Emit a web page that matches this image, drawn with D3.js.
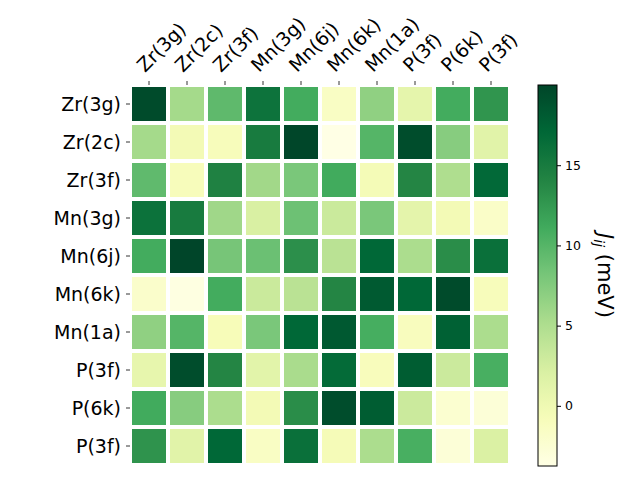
<!DOCTYPE html>
<head>
  <meta charset='utf-8'>
  <script src='https://d3js.org/d3.v7.min.js'></script>
  <style>
    body { margin: 0; background: #fff; }
    text { font-family: 'DejaVu Sans', sans-serif; fill: #000; }
  </style>
</head>

<body>
  <script>

const rowLabels = ['Zr(3g)', 'Zr(2c)', 'Zr(3f)', 'Mn(3g)', 'Mn(6j)', 'Mn(6k)', 'Mn(1a)', 'P(3f)', 'P(6k)', 'P(3f)'];
const colLabels = ['Zr(3g)', 'Zr(2c)', 'Zr(3f)', 'Mn(3g)', 'Mn(6j)', 'Mn(6k)', 'Mn(1a)', 'P(3f)', 'P(6k)', 'P(3f)'];

// J_ij in meV, one row per site
const values = [
  [19.5,  5.6,  9.5, 15.9, 11.0, -1.5,  6.8,  1.0, 11.0, 12.8],
  [ 5.6, -0.4, -0.9, 15.0, 19.9, -3.75, 10.0, 19.3,  7.3,  1.4],
  [ 9.4, -0.9, 14.4,  5.8,  8.0, 11.1, -0.5, 14.0,  5.0, 16.9],
  [16.0, 15.0,  5.9,  2.2,  8.7,  3.2,  8.0,  1.1, -0.4, -1.8],
  [11.0, 20.0,  8.2,  8.8, 13.2,  4.3, 17.0,  5.2, 13.4, 16.2],
  [-2.0, -3.5, 11.0,  3.2,  4.3, 14.0, 18.2, 17.0, 19.5, -0.9],
  [ 6.8, 10.0, -0.8,  8.0, 17.0, 18.3, 10.8, -1.1, 17.6,  5.2],
  [ 0.8, 19.3, 14.0,  1.3,  5.3, 16.7, -1.0, 18.0,  3.1, 10.7],
  [11.1,  7.3,  5.2, -0.4, 13.4, 19.3, 18.0,  3.1, -2.3, -2.8],
  [12.9,  1.4, 17.0, -1.5, 16.2, -0.6,  5.2, 10.7, -2.8,  2.0]
];

const cbarTicks = [0, 5, 10, 15];

// matplotlib YlGn
const ylgn = ['#ffffe5', '#f7fcb9', '#d9f0a3', '#addd8e', '#78c679', '#41ab5d', '#238443', '#006837', '#004529'];

const width = 640, height = 480;
const plot = {left: 130, top: 85, size: 380};
const cbar = {x: 538, y: 85, w: 19, h: 381};

const svg = d3.select('body').append('svg').attr('width', width).attr('height', height);

const [vmin, vmax] = d3.extent(values.flat());
const color = d3.scaleLinear()
  .domain(ylgn.map((c, i) => vmin + i * (vmax - vmin) / 8))
  .range(ylgn)
  .interpolate(d3.interpolateRgb);

const x = d3.scaleBand().domain(d3.range(colLabels.length)).range([plot.left, plot.left + plot.size]);
const y = d3.scaleBand().domain(d3.range(rowLabels.length)).range([plot.top, plot.top + plot.size]);

const cells = [];
values.forEach((row, i) => row.forEach((v, j) => cells.push({i, j, v})));

svg.append('g')
  .selectAll('rect')
  .data(cells)
  .join('rect')
  .attr('x', d => x(d.j) + 2)
  .attr('y', d => y(d.i) + 2)
  .attr('width', x.bandwidth() - 4)
  .attr('height', y.bandwidth() - 4)
  .attr('fill', d => color(d.v));

// top axis
const gTop = svg.append('g');
gTop.selectAll('line')
  .data(colLabels)
  .join('line')
  .attr('x1', (d, i) => x(i) + x.bandwidth() / 2)
  .attr('x2', (d, i) => x(i) + x.bandwidth() / 2)
  .attr('y1', plot.top - 4)
  .attr('y2', plot.top)
  .attr('stroke', '#000')
  .attr('stroke-width', 0.8);

gTop.selectAll('text')
  .data(colLabels)
  .join('text')
  .attr('font-size', 19)
  .attr('transform', (d, i) => `translate(${x(i) + x.bandwidth() / 2 - 4},73) rotate(-45)`)
  .text(d => d);

// left axis
const gLeft = svg.append('g');
gLeft.selectAll('line')
  .data(rowLabels)
  .join('line')
  .attr('x1', plot.left - 4)
  .attr('x2', plot.left)
  .attr('y1', (d, i) => y(i) + y.bandwidth() / 2)
  .attr('y2', (d, i) => y(i) + y.bandwidth() / 2)
  .attr('stroke', '#000')
  .attr('stroke-width', 0.8);

gLeft.selectAll('text')
  .data(rowLabels)
  .join('text')
  .attr('x', plot.left - 9)
  .attr('y', (d, i) => y(i) + y.bandwidth() / 2)
  .attr('dy', '0.36em')
  .attr('text-anchor', 'end')
  .attr('font-size', 19)
  .text(d => d);

// colorbar
const cScale = d3.scaleLinear().domain([vmin, vmax]).range([cbar.y + cbar.h, cbar.y]);

const grad = svg.append('defs').append('linearGradient')
  .attr('id', 'cb')
  .attr('x1', 0).attr('y1', 1).attr('x2', 0).attr('y2', 0);
grad.selectAll('stop')
  .data(d3.range(0, 1.0001, 0.02))
  .join('stop')
  .attr('offset', d => d)
  .attr('stop-color', d => color(vmin + d * (vmax - vmin)));

svg.append('rect')
  .attr('x', cbar.x).attr('y', cbar.y)
  .attr('width', cbar.w).attr('height', cbar.h)
  .attr('fill', 'url(#cb)')
  .attr('stroke', '#000')
  .attr('stroke-width', 1);

const cbAxis = svg.append('g')
  .attr('transform', `translate(${cbar.x + cbar.w},0)`)
  .call(d3.axisRight(cScale).tickValues(cbarTicks).tickSize(4).tickPadding(4));
cbAxis.select('.domain').remove();
cbAxis.selectAll('line').attr('stroke', '#000');
cbAxis.selectAll('text').attr('font-size', 12.5).attr('font-family', 'DejaVu Sans').attr('fill', '#000');

const lab = svg.append('text')
  .attr('transform', `translate(598,${cbar.y + cbar.h / 2}) rotate(90)`)
  .attr('text-anchor', 'middle')
  .attr('font-size', 21);
lab.append('tspan').attr('font-style', 'italic').text('J');
lab.append('tspan').attr('font-style', 'italic').attr('font-size', 14).attr('dy', 4).text('ij');
lab.append('tspan').attr('dy', -4).text(' (meV)');

  </script>
</body>
